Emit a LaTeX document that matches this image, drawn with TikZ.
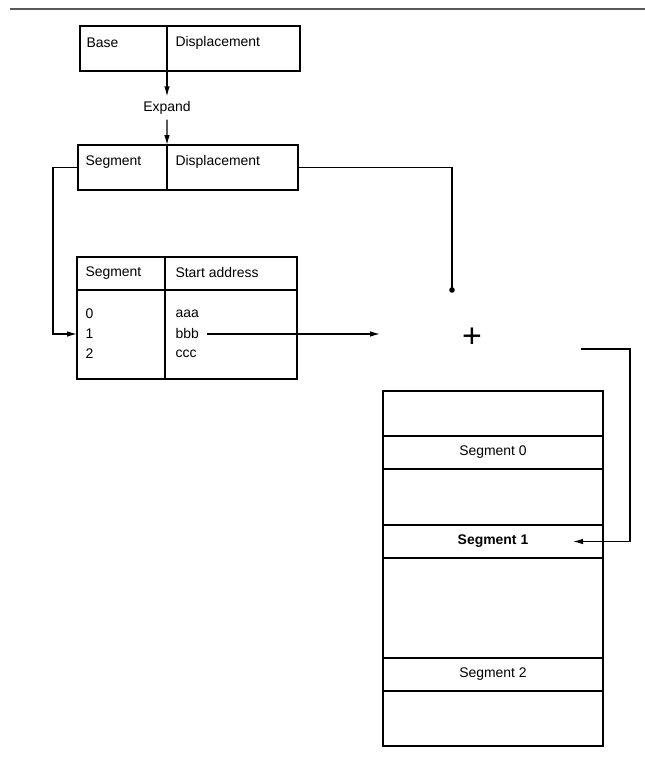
\documentclass[tikz,border=0pt]{standalone}
\usepackage{fontspec}
\setmainfont{Liberation Sans}
\usetikzlibrary{arrows.meta}
\begin{document}
\begin{tikzpicture}[x=1bp,y=-1bp, line width=1.1bp,
  cell/.style={draw, anchor=north west, inner sep=0pt, outer sep=0pt},
  lbl/.style={anchor=west, inner sep=0pt, font=\fontsize{14}{16}\selectfont},
  clbl/.style={inner sep=0pt, font=\fontsize{14}{16}\selectfont},
  arr/.style={-{Latex[length=10bp,width=5.5bp]}}]
\useasboundingbox (0,0) rectangle (645,765);
\coordinate (rulea) at (10,9);
\coordinate (ruleb) at (645,9);
\draw[gray!70!black, line width=1.2bp] (rulea) -- (ruleb);

% top box
\node[cell, minimum width=87bp, minimum height=45bp] (b1a) at (80,26) {};
\node[cell, minimum width=133bp, minimum height=45bp] (b1b) at (b1a.north east) {};
\node[lbl] (tbase) at (86,43) {Base};
\node[lbl] (tdisp1) at (175,43) {Displacement};

\node[clbl, minimum height=22bp] (expand) at (167,108) {Expand};
\draw[arr] (b1a.south east) -- (b1a.south east |- expand.north);
\draw[arr] (b1a.south east |- expand.south) -- (167,145);

% second box
\node[cell, minimum width=89bp, minimum height=45bp] (s1a) at (78,145) {};
\node[cell, minimum width=131bp, minimum height=45bp] (s1b) at (s1a.north east) {};
\node[lbl] (tseg) at (85,162) {Segment};
\node[lbl] (tdisp2) at (175,162) {Displacement};

% table
\node[cell, minimum width=88bp, minimum height=33bp] (ta) at (77,257) {};
\node[cell, minimum width=132bp, minimum height=33bp] (tb) at (ta.north east) {};
\node[cell, minimum width=88bp, minimum height=89bp] (tc) at (ta.south west) {};
\node[cell, minimum width=132bp, minimum height=89bp] (td) at (tc.north east) {};
\node[lbl] (hseg) at (85,273) {Segment};
\node[lbl] (hstart) at (175,273) {Start address};
\node[lbl] (r0) at (85,314) {0};
\node[lbl] (r1) at (85,334) {1};
\node[lbl] (r2) at (85,354) {2};
\node[lbl] (aaa) at (175,314) {aaa};
\node[lbl] (bbb) at (175,334) {bbb};
\node[lbl] (ccc) at (175,354) {ccc};

% adder
\node[inner sep=0pt, font=\fontsize{34}{36}\selectfont] (plus) at (472,338) {+};
\coordinate (dotc) at (452,290);
\coordinate (addin) at (380,334);
\coordinate (addout) at (581,349);

% memory
\node[cell, minimum width=220bp, minimum height=45bp] (m1) at (383,391) {};
\node[cell, minimum width=220bp, minimum height=33bp] (m2) at (m1.south west) {};
\node[cell, minimum width=220bp, minimum height=56bp] (m3) at (m2.south west) {};
\node[cell, minimum width=220bp, minimum height=33bp] (m4) at (m3.south west) {};
\node[cell, minimum width=220bp, minimum height=100bp] (m5) at (m4.south west) {};
\node[cell, minimum width=220bp, minimum height=33bp] (m6) at (m5.south west) {};
\node[cell, minimum width=220bp, minimum height=55bp] (m7) at (m6.south west) {};
\node[clbl] (sg0) at (m2.center) {Segment 0};
\node[clbl, font=\fontsize{14}{16}\selectfont\bfseries] (sg1) at (m4.center) {Segment 1};
\node[clbl] (sg2) at (m6.center) {Segment 2};

% connectors
\draw[arr] (s1a.west) -- ++(-25,0) |- (tc.west |- r1.center);
\draw (s1b.east) -| (dotc);
\fill (dotc) circle (2.8bp);
\draw[arr] ([xshift=8bp]bbb.east) -- (addin);
\draw[arr] (addout) -- ++(49,0) |- ([xshift=-30bp]m4.east);
\end{tikzpicture}
\end{document}
